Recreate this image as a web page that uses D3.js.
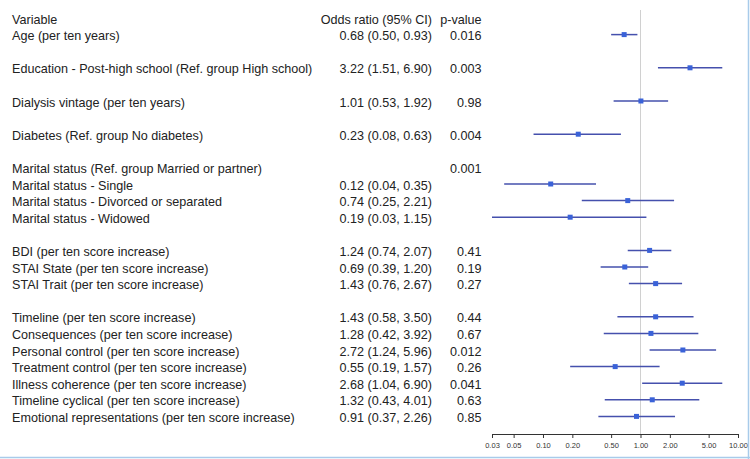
<!DOCTYPE html>
<html><head><meta charset="utf-8">
<script src="https://cdn.jsdelivr.net/npm/d3@7"></script>
<style>body{margin:0;background:#fff}svg{display:block}</style>
</head><body>
<svg id="c" width="750" height="459"></svg>
<script>
const variables = [
  "Age (per ten years)", "",
  "Education - Post-high school (Ref. group High school)", "",
  "Dialysis vintage (per ten years)", "",
  "Diabetes (Ref. group No diabetes)", "",
  "Marital status (Ref. group Married or partner)",
  "Marital status - Single",
  "Marital status - Divorced or separated",
  "Marital status - Widowed", "",
  "BDI (per ten score increase)",
  "STAI State (per ten score increase)",
  "STAI Trait (per ten score increase)", "",
  "Timeline (per ten score increase)",
  "Consequences (per ten score increase)",
  "Personal control (per ten score increase)",
  "Treatment control (per ten score increase)",
  "Illness coherence (per ten score increase)",
  "Timeline cyclical (per ten score increase)",
  "Emotional representations (per ten score increase)"
];
const oddsRatio = [0.68,null,3.22,null,1.01,null,0.23,null,null,0.12,0.74,0.19,null,1.24,0.69,1.43,null,1.43,1.28,2.72,0.55,2.68,1.32,0.91];
const ciLower  = [0.50,null,1.51,null,0.53,null,0.08,null,null,0.04,0.25,0.03,null,0.74,0.39,0.76,null,0.58,0.42,1.24,0.19,1.04,0.43,0.37];
const ciUpper  = [0.93,null,6.90,null,1.92,null,0.63,null,null,0.35,2.21,1.15,null,2.07,1.20,2.67,null,3.50,3.92,5.96,1.57,6.90,4.01,2.26];
const pValues  = ["0.016","","0.003","","0.98","","0.004","","0.001","","","","","0.41","0.19","0.27","","0.44","0.67","0.012","0.26","0.041","0.63","0.85"];
const tickValues = [0.03,0.05,0.10,0.20,0.50,1.00,2.00,5.00,10.00];
const headers = {variable:"Variable", or:"Odds ratio (95% CI)", p:"p-value"};

const svg = d3.select("#c");
const font = "'Liberation Sans', Arial, sans-serif";
const x = d3.scaleLog().domain([0.03, 10]).range([492, 738]);
const y = d3.scaleLinear().domain([-1, variables.length - 1]).range([18, 416.4]);
const f2 = d3.format(".2f");

// reference line at 1
svg.append("line").attr("x1", x(1)).attr("x2", x(1)).attr("y1", 10).attr("y2", 434)
  .attr("stroke", "#d0d0d0").attr("stroke-width", 1);

// headers
const hy = y(-1) + 5.5;
const tg = svg.append("g").attr("font-family", font).attr("font-size", 12.6).attr("fill", "#222");
tg.append("text").attr("x", 12).attr("y", hy).text(headers.variable);
tg.append("text").attr("x", 432).attr("y", hy).attr("text-anchor", "end").text(headers.or);
tg.append("text").attr("x", 481.5).attr("y", hy).attr("text-anchor", "end").text(headers.p);

const rows = variables.map((v, i) => ({v, or: oddsRatio[i], lo: ciLower[i], hi: ciUpper[i], p: pValues[i], i}));

tg.selectAll(".var").data(rows.filter(d => d.v)).join("text")
  .attr("x", 12).attr("y", d => y(d.i) + 5.5).text(d => d.v);
tg.selectAll(".or").data(rows.filter(d => d.or != null)).join("text")
  .attr("x", 432).attr("y", d => y(d.i) + 5.5).attr("text-anchor", "end")
  .text(d => `${f2(d.or)} (${f2(d.lo)}, ${f2(d.hi)})`);
tg.selectAll(".p").data(rows.filter(d => d.p)).join("text")
  .attr("x", 481.5).attr("y", d => y(d.i) + 5.5).attr("text-anchor", "end").text(d => d.p);

// CI lines and squares
const est = rows.filter(d => d.or != null);
svg.selectAll(".ci").data(est).join("line")
  .attr("x1", d => x(d.lo)).attr("x2", d => x(d.hi))
  .attr("y1", d => y(d.i)).attr("y2", d => y(d.i))
  .attr("stroke", "#4550ad").attr("stroke-width", 1.5);
svg.selectAll(".pt").data(est).join("rect")
  .attr("x", d => x(d.or) - 2.5).attr("y", d => y(d.i) - 2.5)
  .attr("width", 5).attr("height", 5).attr("fill", "#3a62d8");

// axis
const axis = d3.axisBottom(x).tickValues(tickValues).tickFormat(f2).tickSize(4).tickSizeOuter(0);
const ag = svg.append("g").attr("transform", "translate(0,434)").call(axis);
ag.select(".domain").attr("stroke", "#333");
ag.selectAll(".tick line").attr("stroke", "#333");
ag.selectAll(".tick text").attr("font-family", font).attr("font-size", 7.5).attr("fill", "#333").attr("dy", "0.9em");

// border
svg.append("line").attr("x1", 748.5).attr("x2", 748.5).attr("y1", 0).attr("y2", 459).attr("stroke", "#a8cbea").attr("stroke-width", 1.5);
svg.append("line").attr("x1", 0).attr("x2", 750).attr("y1", 457.5).attr("y2", 457.5).attr("stroke", "#a8cbea").attr("stroke-width", 1.5);
</script>
</body></html>
